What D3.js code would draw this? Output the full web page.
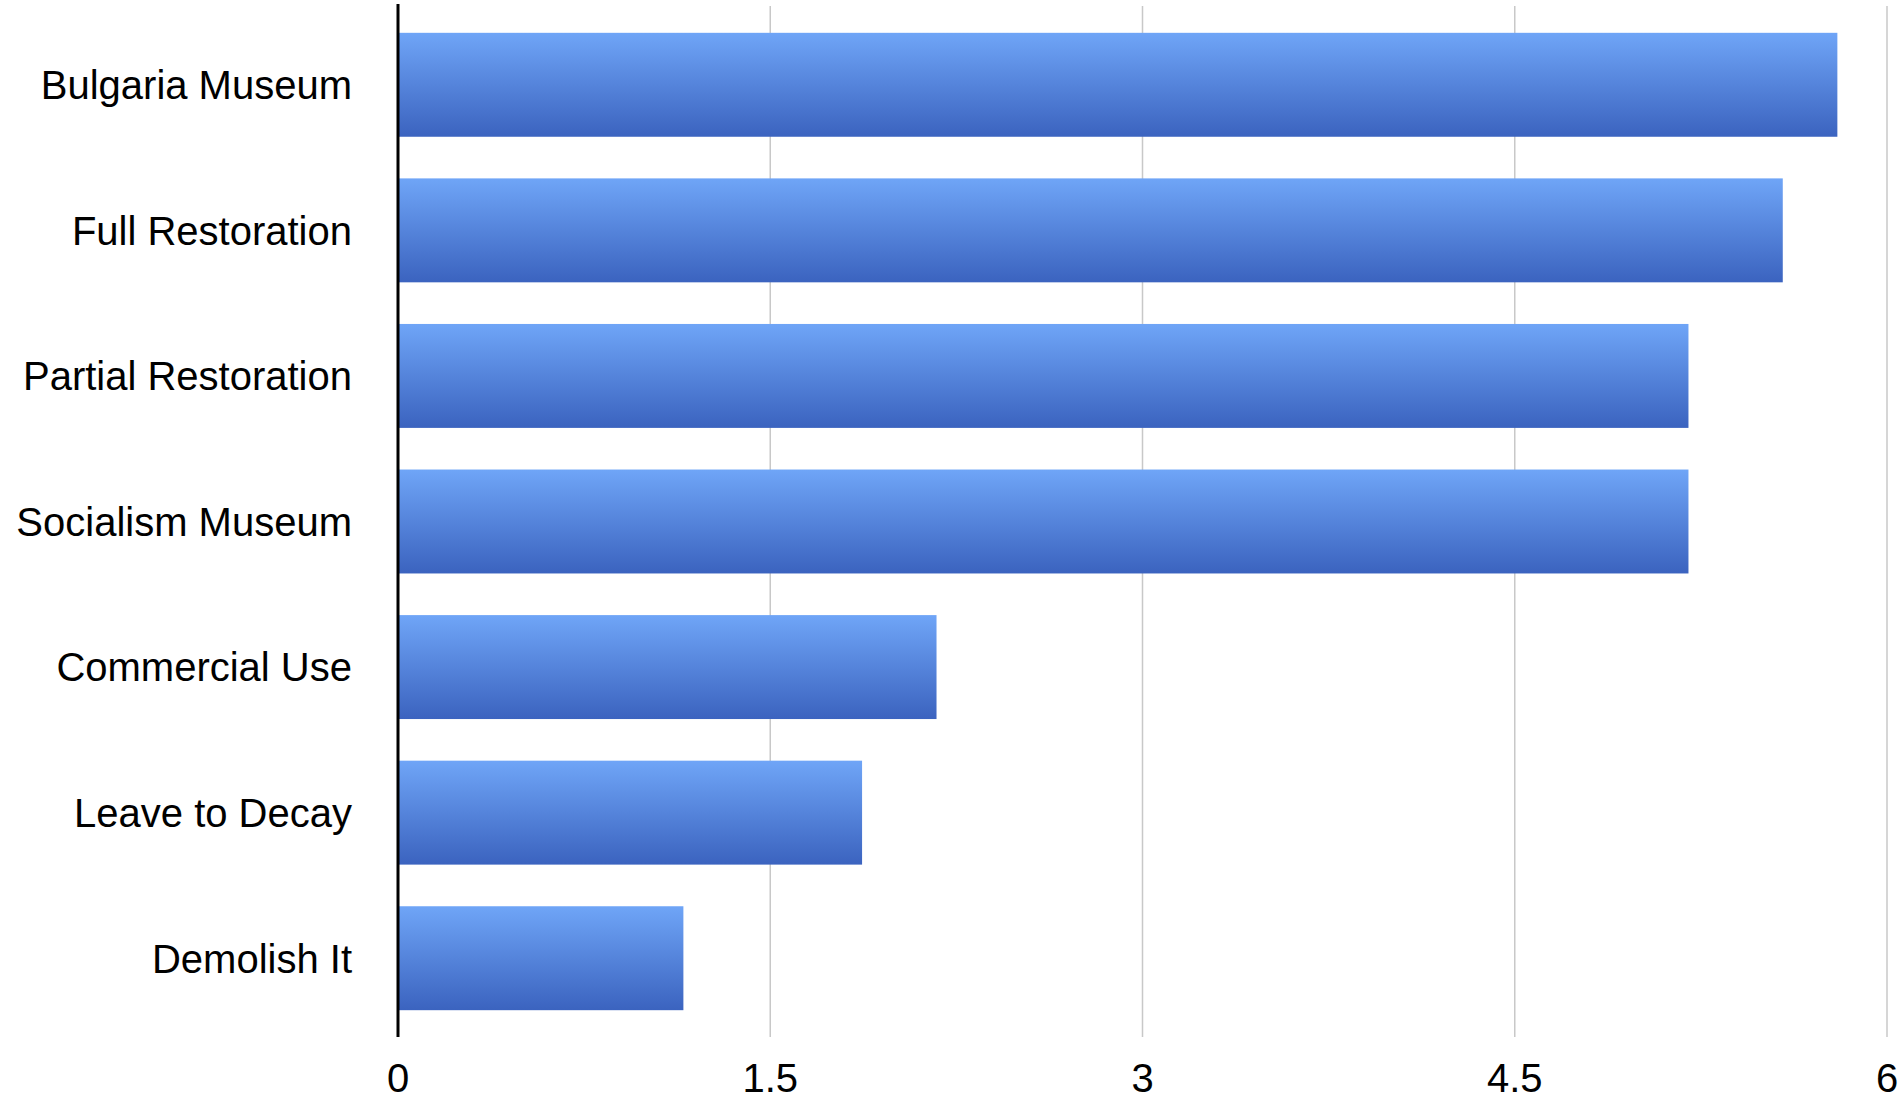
<!DOCTYPE html><html><head><meta charset="utf-8"><script src="https://cdn.jsdelivr.net/npm/d3@7"></script>
<style>body{margin:0;background:#fff}</style></head><body><svg id="c" width="1902" height="1100"></svg><script>
const categories=["Bulgaria Museum","Full Restoration","Partial Restoration","Socialism Museum","Commercial Use","Leave to Decay","Demolish It"];
const values=[5.8,5.58,5.2,5.2,2.17,1.87,1.15];
const ticks=[0,1.5,3,4.5,6];
const tickLabels=["0","1.5","3","4.5","6"];
const svg=d3.select("#c");
const x=d3.scaleLinear().domain([0,6]).range([398,1887]);
const y=d3.scaleBand().domain(categories).range([12,1031]).paddingInner(0.286).paddingOuter(0.143);
const g=svg.append("defs").append("linearGradient").attr("id","gr").attr("x1",0).attr("y1",0).attr("x2",0).attr("y2",1);
g.append("stop").attr("offset","0").attr("stop-color","#6fa5f7");
g.append("stop").attr("offset","1").attr("stop-color","#3b63bf");
svg.append("g").selectAll("line").data(ticks.slice(1)).join("line")
 .attr("x1",d=>x(d)).attr("x2",d=>x(d)).attr("y1",6).attr("y2",1037).attr("stroke","#c8c8c8").attr("stroke-width",1.5);
svg.append("g").selectAll("rect").data(values).join("rect")
 .attr("x",x(0)).attr("y",(d,i)=>y(categories[i])).attr("width",d=>x(d)-x(0)).attr("height",y.bandwidth()).attr("fill","url(#gr)");
svg.append("line").attr("x1",x(0)).attr("x2",x(0)).attr("y1",4).attr("y2",1037).attr("stroke","#000").attr("stroke-width",3);
const f="Liberation Sans, Arial, sans-serif";
svg.append("g").selectAll("text").data(categories).join("text")
 .attr("x",352).attr("y",d=>y(d)+y.bandwidth()/2).attr("dy","0.36em").attr("text-anchor","end")
 .attr("font-family",f).attr("font-size",40).text(d=>d);
svg.append("g").selectAll("text").data(ticks).join("text")
 .attr("x",d=>x(d)).attr("y",1078).attr("dy","0.36em").attr("text-anchor","middle")
 .attr("font-family",f).attr("font-size",40).text((d,i)=>tickLabels[i]);
</script></body></html>
